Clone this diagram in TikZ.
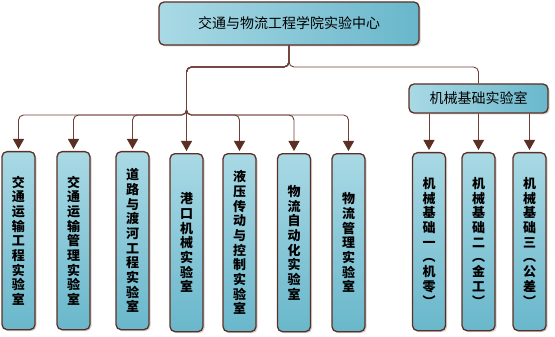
\documentclass[tikz,border=0pt]{standalone}
\usepackage{fontspec}
\setmainfont{Noto Sans CJK SC}
\usetikzlibrary{arrows.meta,shadows}
\definecolor{boxlight}{HTML}{A9D9E5}
\definecolor{boxdark}{HTML}{69B7CB}
\definecolor{boxline}{HTML}{5C2F24}
\definecolor{linkline}{HTML}{6E4038}

\begin{document}
\begin{tikzpicture}[x=1pt,y=-1pt,
  box/.style={draw=boxline,line width=1.3pt,rounded corners=5pt,
    drop shadow={shadow xshift=1.5pt,shadow yshift=-1.5pt,fill=black!35}},
  hbox/.style={box,left color=boxlight,right color=boxdark,
    font=\fontsize{14}{16}\selectfont},
  vbox/.style={box,top color=boxlight,bottom color=boxdark,anchor=north,
    minimum width=33pt,minimum height=178pt,inner sep=0pt,align=center,
    font=\bfseries\fontsize{13}{14.7}\selectfont},
  link/.style={linkline,line width=0.9pt,rounded corners=5pt},
  arr/.style={link,-{Triangle[width=11pt,length=10pt,color=boxline]},shorten >=2pt}]
\useasboundingbox (0,0) rectangle (555,337);
% top level
\node[hbox,minimum width=260pt,minimum height=43pt] (center) at (289,23.5) {交通与物流工程学院实验中心};
\node[hbox,minimum width=139pt,minimum height=29pt] (jxjc) at (478.5,98.5) {机械基础实验室};
% labs
\node[vbox] (lab1) at (18.5,151) {交\\通\\运\\输\\工\\程\\实\\验\\室};
\node[vbox] (lab2) at (73.5,151) {交\\通\\运\\输\\管\\理\\实\\验\\室};
\node[vbox] (lab3) at (132.5,151) {道\\路\\与\\渡\\河\\工\\程\\实\\验\\室};
\node[vbox] (lab4) at (186.5,153) {港\\口\\机\\械\\实\\验\\室};
\node[vbox] (lab5) at (239.5,153) {液\\压\\传\\动\\与\\控\\制\\实\\验\\室};
\node[vbox] (lab6) at (294,153) {物\\流\\自\\动\\化\\实\\验\\室};
\node[vbox] (lab7) at (348.5,153) {物\\流\\管\\理\\实\\验\\室};
\node[vbox] (jx1) at (429,152) {机\\械\\基\\础\\一\\︵\\机\\零\\︶};
\node[vbox] (jx2) at (478.5,152) {机\\械\\基\\础\\二\\︵\\金\\工\\︶};
\node[vbox] (jx3) at (529.5,152) {机\\械\\基\\础\\三\\︵\\公\\差\\︶};
% connectors
\coordinate (upL) at (186.5,67);
\coordinate (upR) at (478.5,67);
\coordinate (hub) at (186.5,115);
\foreach \n in {lab1,lab2,lab3,lab4,lab5,lab6,lab7}
  \draw[arr] (center.south) |- (upL) -- (hub) -| (\n.north);
\draw[link] (center.south) |- (upR) -- (jxjc.north);
\foreach \n in {jx1,jx2,jx3}
  \draw[arr] (jxjc.south -| \n.north) -- (\n.north);
\end{tikzpicture}
\end{document}
